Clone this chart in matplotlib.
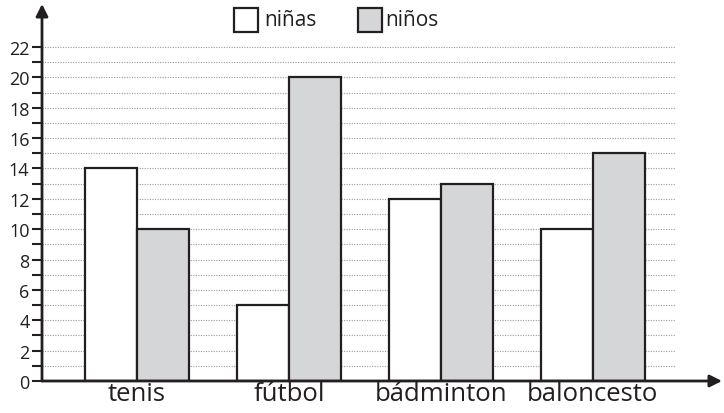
import matplotlib
matplotlib.use("Agg")
import matplotlib.pyplot as plt
from matplotlib.patches import Rectangle
import numpy as np

plt.rcParams['font.family'] = ['Open Sans', 'DejaVu Sans']

categories = ["tenis", "fútbol", "bádminton", "baloncesto"]
ninas = [14, 5, 12, 10]
ninos = [10, 20, 13, 15]
series_labels = ["niñas", "niños"]
y_major = list(range(0, 23, 2))
y_minor = list(range(1, 22, 2))

W, H = 724, 414
fig = plt.figure(figsize=(W / 100, H / 100), dpi=100)
ax = fig.add_axes([42 / W, 32 / H, (722 - 42) / W, (382 - 5) / H])

ink = "#231f20"
grey = "#d5d6d8"
x = np.arange(len(categories))
bw = 0.342

ax.set_xlim(-0.625, 3.85)
ax.set_ylim(0, 24.83)

# dotted grid lines every unit
ax.hlines(np.arange(1, 23), -0.625, 3.54, colors="#9a9a9a", linestyles=(0, (1, 1.3)),
          linewidth=0.8, zorder=1)

ax.bar(x - bw / 2, ninas, width=bw, color="white", edgecolor=ink, linewidth=1.6, zorder=3)
ax.bar(x + bw / 2, ninos, width=bw, color=grey, edgecolor=ink, linewidth=1.6, zorder=3)

for s in ax.spines.values():
    s.set_visible(False)

# axes with arrowheads
ax.annotate("", xy=(0, 1), xytext=(0, 0), xycoords="axes fraction",
            arrowprops=dict(arrowstyle="-|>", color=ink, lw=2, mutation_scale=18,
                            shrinkA=0, shrinkB=0), zorder=5)
ax.annotate("", xy=(1, 0), xytext=(0, 0), xycoords="axes fraction",
            arrowprops=dict(arrowstyle="-|>", color=ink, lw=2, mutation_scale=18,
                            shrinkA=0, shrinkB=0), zorder=5)

ax.set_yticks(y_major)
ax.set_yticks(y_minor, minor=True)
ax.set_yticklabels([str(v) for v in y_major], fontsize=13, color=ink)
ax.tick_params(axis="y", which="both", length=7, width=1.5, color=ink, pad=2)

ax.set_xticks(x)
ax.set_xticklabels(categories, fontsize=18.5, color=ink)
ax.tick_params(axis="x", length=0, pad=0)

# legend boxes drawn in figure pixels
def legend_item(x0, face, label, tx):
    fig.patches.append(Rectangle((x0 / W, (H - 33) / H), 24 / W, 24 / H, transform=fig.transFigure,
                                 facecolor=face, edgecolor=ink, linewidth=1.6))
    fig.text(tx / W, (H - 20) / H, label, fontsize=15, color=ink, va="center", ha="left")

legend_item(234, "white", series_labels[0], 264)
legend_item(358, grey, series_labels[1], 385)

fig.savefig("out.png", dpi=100)
